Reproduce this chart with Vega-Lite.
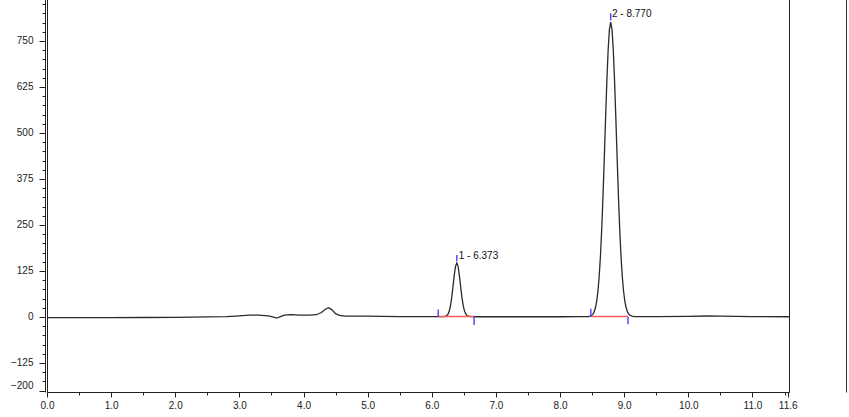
{
  "$schema": "https://vega.github.io/schema/vega-lite/v6.json",
  "autosize": "none",
  "width": 742,
  "height": 394,
  "padding": {"left": 47, "top": -2, "right": 60, "bottom": 25},
  "background": "white",
  "config": {
    "view": {"stroke": "#222222", "strokeWidth": 1},
    "font": "Liberation Sans",
    "axis": {"grid": false, "labelFont": "Liberation Sans", "labelFontSize": 10, "labelColor": "#222222", "domainColor": "#222222", "tickColor": "#222222", "labelOverlap": false, "title": null}
  },
  "datasets": {
    "trace": [
      {"t": 0.0, "v": -2}, {"t": 0.5, "v": -2}, {"t": 1.0, "v": -2}, {"t": 1.5, "v": -1.5},
      {"t": 2.0, "v": -1}, {"t": 2.5, "v": 0}, {"t": 2.8, "v": 1}, {"t": 3.0, "v": 3},
      {"t": 3.15, "v": 5}, {"t": 3.3, "v": 5}, {"t": 3.45, "v": 3}, {"t": 3.52, "v": 0},
      {"t": 3.58, "v": -3}, {"t": 3.63, "v": 0}, {"t": 3.7, "v": 5}, {"t": 3.8, "v": 6},
      {"t": 3.95, "v": 5}, {"t": 4.1, "v": 5}, {"t": 4.2, "v": 6}, {"t": 4.28, "v": 12},
      {"t": 4.34, "v": 21}, {"t": 4.39, "v": 25}, {"t": 4.44, "v": 20}, {"t": 4.5, "v": 9},
      {"t": 4.56, "v": 4}, {"t": 4.65, "v": 2}, {"t": 5.0, "v": 2}, {"t": 5.5, "v": 1},
      {"t": 6.0, "v": 1}, {"t": 6.1, "v": 1},
      {"t": 6.19, "v": 1.2}, {"t": 6.21, "v": 1.7}, {"t": 6.23, "v": 3}, {"t": 6.25, "v": 6.5},
      {"t": 6.27, "v": 14.5}, {"t": 6.29, "v": 29}, {"t": 6.31, "v": 51.5}, {"t": 6.33, "v": 81.5},
      {"t": 6.35, "v": 113}, {"t": 6.37, "v": 137.5}, {"t": 6.39, "v": 147}, {"t": 6.41, "v": 137.5},
      {"t": 6.43, "v": 113}, {"t": 6.45, "v": 82}, {"t": 6.47, "v": 53}, {"t": 6.49, "v": 31},
      {"t": 6.51, "v": 16}, {"t": 6.53, "v": 8}, {"t": 6.55, "v": 4}, {"t": 6.57, "v": 2.2},
      {"t": 6.61, "v": 1.2}, {"t": 6.7, "v": 0.5}, {"t": 7.0, "v": 0.5}, {"t": 7.5, "v": 0.5},
      {"t": 8.0, "v": 0.5}, {"t": 8.3, "v": 0.8}, {"t": 8.4, "v": 1.1},
      {"t": 8.44, "v": 1.2}, {"t": 8.47, "v": 2}, {"t": 8.49, "v": 3.7}, {"t": 8.51, "v": 7},
      {"t": 8.53, "v": 13}, {"t": 8.55, "v": 23.5}, {"t": 8.57, "v": 41}, {"t": 8.59, "v": 68.5},
      {"t": 8.61, "v": 109}, {"t": 8.63, "v": 165.5}, {"t": 8.65, "v": 239.5}, {"t": 8.67, "v": 330},
      {"t": 8.69, "v": 432.5}, {"t": 8.71, "v": 540}, {"t": 8.73, "v": 641.5}, {"t": 8.75, "v": 726},
      {"t": 8.77, "v": 781.5}, {"t": 8.79, "v": 801}, {"t": 8.81, "v": 781.5}, {"t": 8.83, "v": 726},
      {"t": 8.85, "v": 641.5}, {"t": 8.87, "v": 540}, {"t": 8.89, "v": 432.5}, {"t": 8.91, "v": 330},
      {"t": 8.93, "v": 240}, {"t": 8.95, "v": 166.5}, {"t": 8.97, "v": 110.5}, {"t": 8.99, "v": 70.5},
      {"t": 9.01, "v": 43}, {"t": 9.03, "v": 25.5}, {"t": 9.05, "v": 14.5}, {"t": 9.07, "v": 8},
      {"t": 9.09, "v": 4.5}, {"t": 9.12, "v": 2.2}, {"t": 9.16, "v": 1.2}, {"t": 9.5, "v": 1},
      {"t": 10.0, "v": 1.5}, {"t": 10.3, "v": 2.5}, {"t": 10.5, "v": 2}, {"t": 11.0, "v": 1},
      {"t": 11.57, "v": 0.5}
    ],
    "baselines": [
      {"t1": 6.10, "t2": 6.66, "v": 1},
      {"t1": 8.48, "t2": 9.06, "v": 1}
    ],
    "markers": [
      {"t": 6.10, "y1": 1, "y2": 20},
      {"t": 6.66, "y1": 0, "y2": -22},
      {"t": 6.39, "y1": 152, "y2": 168},
      {"t": 8.48, "y1": 1, "y2": 22},
      {"t": 9.06, "y1": 0, "y2": -20},
      {"t": 8.79, "y1": 806, "y2": 825}
    ],
    "labels": [
      {"t": 6.42, "v": 165, "label": "1 - 6.373"},
      {"t": 8.81, "v": 823, "label": "2 - 8.770"}
    ]
  },
  "resolve": {"axis": {"x": "independent", "y": "independent"}},
  "layer": [
    {
      "data": {"name": "trace"},
      "mark": {"type": "line", "color": "#2a2a2a", "strokeWidth": 1.3, "clip": true},
      "encoding": {
        "x": {
          "field": "t", "type": "quantitative",
          "scale": {"domain": [0, 11.57], "nice": false, "zero": false},
          "axis": {
            "orient": "bottom",
            "values": [0, 0.5, 1, 1.5, 2, 2.5, 3, 3.5, 4, 4.5, 5, 5.5, 6, 6.5, 7, 7.5, 8, 8.5, 9, 9.5, 10, 10.5, 11, 11.5, 11.55],
            "labelExpr": "datum.value === 11.55 ? '11.6' : (abs(datum.value - round(datum.value)) < 0.001 ? format(datum.value, '.1f') : '')",
            "tickSize": {"condition": {"test": "abs(datum.value - round(datum.value)) < 0.001 || datum.value === 11.55", "value": 5}, "value": 3},
            "labelPadding": 3,
            "labelFlush": false,
            "domain": true
          }
        },
        "y": {
          "field": "v", "type": "quantitative",
          "scale": {"domain": [-204, 866.7], "nice": false, "zero": false},
          "axis": {
            "orient": "left",
            "offset": 2,
            "values": [-200, -175, -150, -125, -100, -75, -50, -25, 0, 25, 50, 75, 100, 125, 150, 175, 200, 225, 250, 275, 300, 325, 350, 375, 400, 425, 450, 475, 500, 525, 550, 575, 600, 625, 650, 675, 700, 725, 750, 775, 800, 825, 850],
            "labelExpr": "(datum.value % 125 === 0 || datum.value === -200) ? format(datum.value, 'd') : ''",
            "tickSize": {"condition": {"test": "datum.value % 125 === 0 || datum.value === -200", "value": 6}, "value": 3},
            "labelBaseline": {"condition": {"test": "datum.value === -200", "value": "bottom"}, "value": "middle"},
            "labelPadding": 6,
            "labelFlush": false,
            "domain": true
          }
        }
      }
    },
    {
      "data": {"name": "baselines"},
      "mark": {"type": "rule", "color": "#ff5a5a", "strokeWidth": 1.5},
      "encoding": {
        "x": {"field": "t1", "type": "quantitative", "axis": null},
        "x2": {"field": "t2"},
        "y": {"field": "v", "type": "quantitative", "axis": {"orient": "right", "offset": 57, "ticks": false, "labels": false, "domain": true, "domainColor": "#333333"}}
      }
    },
    {
      "data": {"name": "markers"},
      "mark": {"type": "rule", "color": "#3434ff", "strokeWidth": 1.3},
      "encoding": {
        "x": {"field": "t", "type": "quantitative", "axis": null},
        "y": {"field": "y1", "type": "quantitative", "axis": null},
        "y2": {"field": "y2"}
      }
    },
    {
      "data": {"name": "labels"},
      "mark": {"type": "text", "align": "left", "baseline": "middle", "fontSize": 10, "font": "Liberation Sans", "color": "#111111"},
      "encoding": {
        "x": {"field": "t", "type": "quantitative", "axis": null},
        "y": {"field": "v", "type": "quantitative", "axis": null},
        "text": {"field": "label"}
      }
    }
  ]
}
